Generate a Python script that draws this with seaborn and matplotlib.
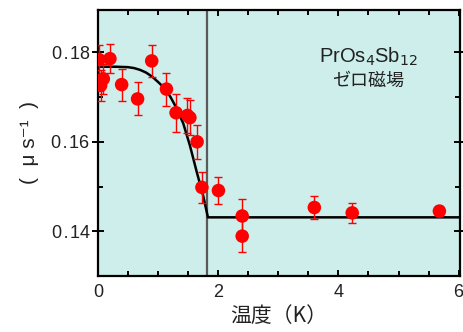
import matplotlib
matplotlib.use("Agg")
import matplotlib.pyplot as plt
import seaborn as sns
import pandas as pd
from matplotlib.ticker import MultipleLocator

# data points
temps = [0.017, 0.045, 0.09, 0.20, 0.395, 0.66, 0.895, 1.14, 1.30, 1.49, 1.53,
         1.65, 1.73, 2.005, 2.40, 2.40, 3.60, 4.23, 5.68]
rates = [0.1784, 0.1726, 0.1741, 0.1786, 0.1728, 0.1696, 0.1781, 0.1718, 0.1665,
         0.1659, 0.1654, 0.1600, 0.1498, 0.1491, 0.1434, 0.1389, 0.1453, 0.1441, 0.1445]
errors = [0.0032, 0.0034, 0.0034, 0.0033, 0.0036, 0.0037, 0.0035, 0.0037, 0.0043,
          0.0039, 0.0039, 0.0038, 0.0035, 0.0031, 0.0039, 0.0035, 0.0026, 0.0023, 0.0012]

# fit curve
fit_t = [0.0, 0.30, 0.50, 0.60, 0.70, 0.80, 0.90, 1.00, 1.10, 1.20, 1.31, 1.42,
         1.53, 1.645, 1.75, 1.83, 6.05]
fit_r = [0.1768, 0.1768, 0.1767, 0.1765, 0.1761, 0.1755, 0.1746, 0.1734, 0.1721,
         0.1702, 0.1675, 0.1641, 0.1592, 0.1532, 0.1480, 0.1431, 0.1431]

tc = 1.82
xticks = [0, 2, 4, 6]
yticks = [0.14, 0.16, 0.18]

sns.set_theme(style="ticks")
plt.rcParams['font.family'] = ['Liberation Sans', 'DejaVu Sans', 'Noto Sans CJK JP']

fig = plt.figure(figsize=(4.64, 3.32), dpi=100)
ax = fig.add_axes([0.211, 0.169, 0.780, 0.801])
ax.set_facecolor('#cdeeea')

ax.axvline(tc, color='#5a5a5a', lw=1.6, zorder=1)

df_fit = pd.DataFrame({'T': fit_t, 'r': fit_r})
sns.lineplot(data=df_fit, x='T', y='r', ax=ax, color='black', lw=1.8,
             sort=False, estimator=None, zorder=2)

ax.errorbar(temps, rates, yerr=errors, fmt='none', ecolor='#ff0000',
            elinewidth=1.0, capsize=2.6, capthick=1.0, zorder=3)
df = pd.DataFrame({'T': temps, 'r': rates})
sns.scatterplot(data=df, x='T', y='r', ax=ax, color='#ff0000', s=95,
                edgecolor='none', zorder=4)

ax.set_xlim(0, 6.02)
ax.set_ylim(0.130, 0.1895)
ax.set_xticks(xticks)
ax.set_xticklabels([str(v) for v in xticks])
ax.set_yticks(yticks)
ax.set_yticklabels([f"{v:.2f}".replace('.', '\u200a.\u200a') for v in yticks])
ax.xaxis.set_minor_locator(MultipleLocator(0.5))
ax.yaxis.set_minor_locator(MultipleLocator(0.01))

for s in ax.spines.values():
    s.set_linewidth(1.6)
    s.set_color('black')

ax.tick_params(axis='both', which='both', direction='in', top=True, right=True,
               width=1.4, color='black', labelsize=13, labelcolor='#222222')
ax.tick_params(axis='both', which='major', length=4.5)
ax.tick_params(axis='both', which='minor', length=3.5)
ax.tick_params(axis='y', which='major', left=True, direction='inout', length=8, pad=2)
ax.tick_params(axis='x', which='major', pad=6)

ax.set_xlabel('温度（K）', fontsize=15, color='#222222', labelpad=3,
              family=['Noto Sans CJK JP', 'DejaVu Sans'])
ax.set_ylabel('(  μ s\u207b\u00b9  )', fontsize=15, color='#222222', labelpad=9)

ax.text(0.748, 0.825, 'PrOs$_4$Sb$_{12}$', transform=ax.transAxes, ha='center',
        va='center', fontsize=14.5, color='#222222')
ax.text(0.748, 0.735, 'ゼロ磁場', transform=ax.transAxes, ha='center', va='center',
        fontsize=13, color='#222222', family=['Noto Sans CJK JP', 'DejaVu Sans'])

fig.savefig('out.png', dpi=100, facecolor='white')
